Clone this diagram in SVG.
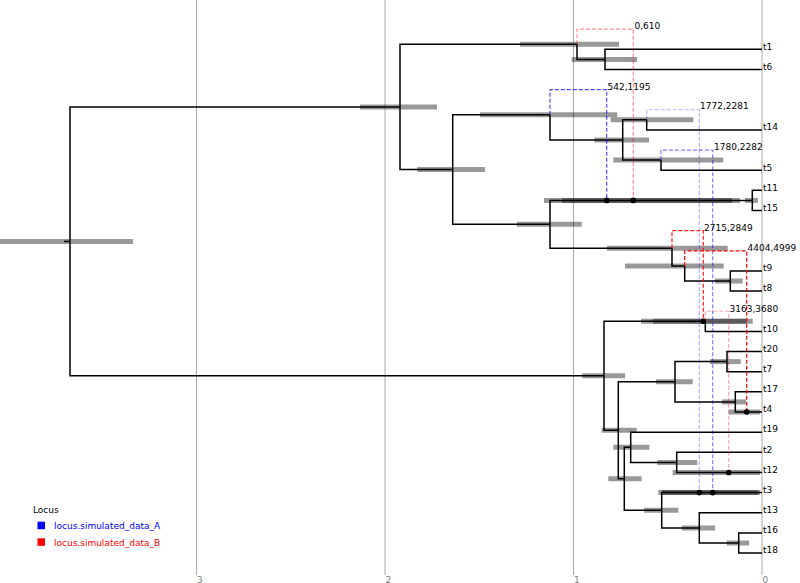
<svg xmlns="http://www.w3.org/2000/svg" width="800" height="583" viewBox="0 0 800 583">
<style>
text{font-family:"DejaVu Sans","Liberation Sans",sans-serif;font-size:9px;fill:#000}
.grid{stroke:#aaaaaa;stroke-width:1;fill:none}
.ax{fill:#7f7f7f}
.br{stroke:#000;stroke-width:1.5;fill:none;stroke-linejoin:miter}
.hpd line{stroke:#000;stroke-opacity:0.4;stroke-width:5}
.conv{fill:none;stroke-width:1.2;stroke-dasharray:4,2}
.dot{fill:#000}
</style>
<rect width="800" height="583" fill="#fff"/>
<g id="axis">
<line class="grid" x1="196.5" y1="0" x2="196.5" y2="575"/>
<line class="grid" x1="385" y1="0" x2="385" y2="575"/>
<line class="grid" x1="573.5" y1="0" x2="573.5" y2="575"/>
<line class="grid" x1="762" y1="0" x2="762" y2="575"/>
<text class="ax" x="197" y="582.5">3</text>
<text class="ax" x="385.5" y="582.5">2</text>
<text class="ax" x="574" y="582.5">1</text>
<text class="ax" x="762.5" y="582.5">0</text>
</g>
<g id="hpd-bars" class="hpd">
<line x1="0" y1="241.4" x2="133" y2="241.4"/>
<line x1="360" y1="106.95" x2="437" y2="106.95"/>
<line x1="520" y1="44.3" x2="619" y2="44.3"/>
<line x1="571.7" y1="59.4" x2="637" y2="59.4"/>
<line x1="417.3" y1="169.6" x2="485" y2="169.6"/>
<line x1="480" y1="114.8" x2="617.3" y2="114.8"/>
<line x1="594.3" y1="139.95" x2="649" y2="139.95"/>
<line x1="610.7" y1="119.8" x2="693.3" y2="119.8"/>
<line x1="613.3" y1="160.1" x2="723.3" y2="160.1"/>
<line x1="516.7" y1="224.35" x2="581.7" y2="224.35"/>
<line x1="745" y1="200.4" x2="758" y2="200.4"/>
<line x1="544" y1="200.4" x2="740" y2="200.4"/>
<line x1="562" y1="200.4" x2="732" y2="200.4"/>
<line x1="607" y1="248.3" x2="727.7" y2="248.3"/>
<line x1="625" y1="265.9" x2="723.7" y2="265.9"/>
<line x1="715" y1="281" x2="742.7" y2="281"/>
<line x1="641" y1="321.3" x2="752.7" y2="321.3"/>
<line x1="653" y1="321.3" x2="746.7" y2="321.3"/>
<line x1="582.3" y1="375.8" x2="625" y2="375.8"/>
<line x1="656" y1="381.8" x2="692.7" y2="381.8"/>
<line x1="710" y1="361.6" x2="740.7" y2="361.6"/>
<line x1="722" y1="401.9" x2="746" y2="401.9"/>
<line x1="728.7" y1="412" x2="760" y2="412"/>
<line x1="601.7" y1="430.3" x2="636.7" y2="430.3"/>
<line x1="613.3" y1="447.3" x2="649.3" y2="447.3"/>
<line x1="608.3" y1="478.8" x2="641.7" y2="478.8"/>
<line x1="657.3" y1="462.4" x2="697.3" y2="462.4"/>
<line x1="672.7" y1="472.45" x2="760" y2="472.45"/>
<line x1="644" y1="510.2" x2="678.3" y2="510.2"/>
<line x1="658.3" y1="492.6" x2="760" y2="492.6"/>
<line x1="662" y1="492.6" x2="758" y2="492.6"/>
<line x1="681.7" y1="527.9" x2="715" y2="527.9"/>
<line x1="726.7" y1="543" x2="749" y2="543"/>
</g>
<g id="connectors">
<path class="br" d="M64,241.4 H70"/>
<path class="br" d="M70,241.4 V106.95 H400"/>
<path class="br" d="M70,241.4 V375.8 H604"/>
<path class="br" d="M400,106.95 V44.3 H577"/>
<path class="br" d="M400,106.95 V169.6 H452.7"/>
<path class="br" d="M577,44.3 V59.4 H605"/>
<path class="br" d="M605,59.4 V49.3 H762"/>
<path class="br" d="M605,59.4 V69.45 H762"/>
<path class="br" d="M452.7,169.6 V114.8 H550"/>
<path class="br" d="M452.7,169.6 V224.35 H550"/>
<path class="br" d="M550,114.8 V139.95 H622.7"/>
<path class="br" d="M622.7,139.95 V119.8 H646.7"/>
<path class="br" d="M622.7,139.95 V160.1 H661"/>
<path class="br" d="M646.7,119.8 V129.9 H762"/>
<path class="br" d="M661,160.1 V170.2 H762"/>
<path class="br" d="M550,224.35 V200.4 H752.3"/>
<path class="br" d="M550,224.35 V248.3 H672"/>
<path class="br" d="M752.3,200.4 V190.35 H762"/>
<path class="br" d="M752.3,200.4 V210.5 H762"/>
<path class="br" d="M672,248.3 V265.9 H684.7"/>
<path class="br" d="M684.7,265.9 V281 H730.3"/>
<path class="br" d="M730.3,281 V270.95 H762"/>
<path class="br" d="M730.3,281 V291.1 H762"/>
<path class="br" d="M604,375.8 V321.3 H705.3"/>
<path class="br" d="M604,375.8 V430.3 H618.3"/>
<path class="br" d="M705.3,321.3 V331.4 H762"/>
<path class="br" d="M618.3,430.3 V381.8 H675"/>
<path class="br" d="M618.3,430.3 V478.8 H624.3"/>
<path class="br" d="M675,381.8 V361.6 H727"/>
<path class="br" d="M675,381.8 V401.9 H735.3"/>
<path class="br" d="M727,361.6 V351.55 H762"/>
<path class="br" d="M727,361.6 V371.7 H762"/>
<path class="br" d="M735.3,401.9 V391.85 H762"/>
<path class="br" d="M735.3,401.9 V412 H762"/>
<path class="br" d="M624.3,478.8 V447.3 H630.7"/>
<path class="br" d="M624.3,478.8 V510.2 H661.7"/>
<path class="br" d="M630.7,447.3 V432.15 H762"/>
<path class="br" d="M630.7,447.3 V462.4 H676.7"/>
<path class="br" d="M676.7,462.4 V452.3 H762"/>
<path class="br" d="M676.7,462.4 V472.45 H762"/>
<path class="br" d="M661.7,510.2 V492.6 H762"/>
<path class="br" d="M661.7,510.2 V527.9 H699.3"/>
<path class="br" d="M699.3,527.9 V512.75 H762"/>
<path class="br" d="M699.3,527.9 V543 H738.7"/>
<path class="br" d="M738.7,543 V532.9 H762"/>
<path class="br" d="M738.7,543 V553.05 H762"/>
</g>
<g id="conversions">
<g id="conv-0-610">
<path class="conv" stroke="#ff0000" stroke-opacity="0.45" d="M577,44.3 V29.15 H633.3 V200.4"/>
<circle class="dot" cx="633.3" cy="200.4" r="2.8"/>
<text x="634.5" y="29">0,610</text>
</g>
<g id="conv-542-1195">
<path class="conv" stroke="#0000ff" stroke-opacity="0.7" d="M550,114.8 V89.6 H606.7 V200.4"/>
<circle class="dot" cx="606.7" cy="200.4" r="2.8"/>
<text x="607.5" y="89.6">542,1195</text>
</g>
<g id="conv-1772-2281">
<path class="conv" stroke="#0000ff" stroke-opacity="0.3" d="M646.7,119.8 V109.75 H699.3 V492.6"/>
<circle class="dot" cx="699.3" cy="492.6" r="2.8"/>
<text x="700" y="109.3">1772,2281</text>
</g>
<g id="conv-1780-2282">
<path class="conv" stroke="#0000ff" stroke-opacity="0.5" d="M661,160.1 V150.05 H712.7 V492.6"/>
<circle class="dot" cx="712.7" cy="492.6" r="2.8"/>
<text x="714" y="150">1780,2282</text>
</g>
<g id="conv-2715-2849">
<path class="conv" stroke="#ff0000" stroke-opacity="0.9" d="M672,248.3 V230.65 H703.3 V321.3"/>
<circle class="dot" cx="703.3" cy="321.3" r="2.8"/>
<text x="704" y="230.6">2715,2849</text>
</g>
<g id="conv-4404-4999">
<path class="conv" stroke="#ff0000" d="M684.7,265.9 V250.8 H746.7 V412"/>
<circle class="dot" cx="746.7" cy="412" r="2.8"/>
<text x="747.5" y="251">4404,4999</text>
</g>
<g id="conv-3163-3680">
<path class="conv" stroke="#ff0000" stroke-opacity="0.35" d="M705.3,321.3 V311.25 H728.7 V472.45"/>
<circle class="dot" cx="728.7" cy="472.45" r="2.8"/>
<text x="729.5" y="311.5">3163,3680</text>
</g>
</g>
<g id="tips">
<g id="tip-t1"><text x="763" y="49.6">t1</text></g>
<g id="tip-t6"><text x="763" y="69.75">t6</text></g>
<g id="tip-t14"><text x="763" y="130.2">t14</text></g>
<g id="tip-t5"><text x="763" y="170.5">t5</text></g>
<g id="tip-t11"><text x="763" y="190.65">t11</text></g>
<g id="tip-t15"><text x="763" y="210.8">t15</text></g>
<g id="tip-t9"><text x="763" y="271.25">t9</text></g>
<g id="tip-t8"><text x="763" y="291.4">t8</text></g>
<g id="tip-t10"><text x="763" y="331.7">t10</text></g>
<g id="tip-t20"><text x="763" y="351.85">t20</text></g>
<g id="tip-t7"><text x="763" y="372">t7</text></g>
<g id="tip-t17"><text x="763" y="392.15">t17</text></g>
<g id="tip-t4"><text x="763" y="412.3">t4</text></g>
<g id="tip-t19"><text x="763" y="432.45">t19</text></g>
<g id="tip-t2"><text x="763" y="452.6">t2</text></g>
<g id="tip-t12"><text x="763" y="472.75">t12</text></g>
<g id="tip-t3"><text x="763" y="492.9">t3</text></g>
<g id="tip-t13"><text x="763" y="513.05">t13</text></g>
<g id="tip-t16"><text x="763" y="533.2">t16</text></g>
<g id="tip-t18"><text x="763" y="553.35">t18</text></g>
</g>
<g id="legend">
<text x="33" y="513.3">Locus</text>
<rect x="37.5" y="521.7" width="7.5" height="7.5" fill="#0000ff"/>
<text x="54" y="529.3" style="fill:#0000ff">locus.simulated_data_A</text>
<rect x="37.5" y="538.3" width="7.5" height="7.5" fill="#ff0000"/>
<text x="54" y="546" style="fill:#ff0000">locus.simulated_data_B</text>
</g>
</svg>
